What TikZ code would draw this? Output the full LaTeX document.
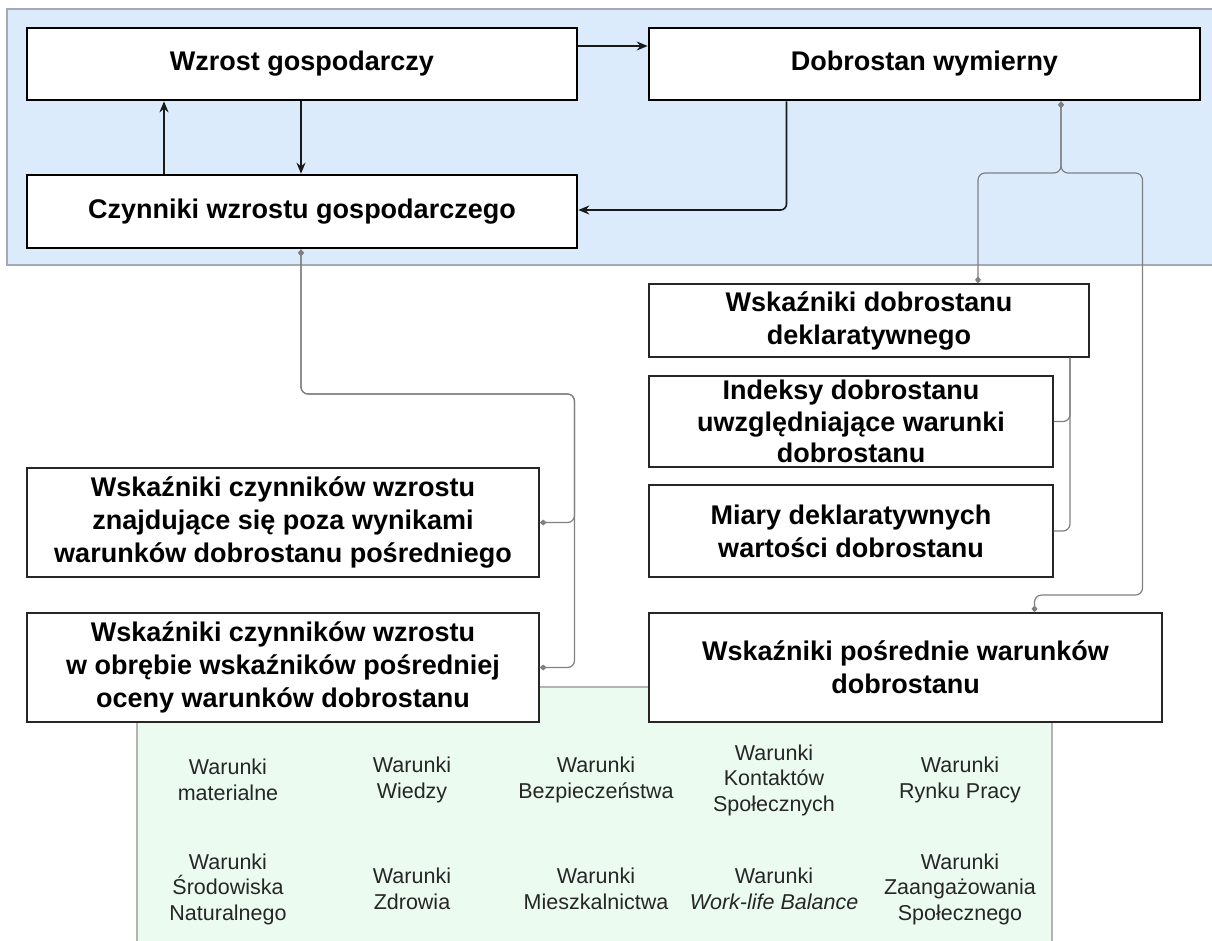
\documentclass[tikz,border=0pt]{standalone}
\usepackage{fontspec}
\setmainfont{Liberation Sans}
\usetikzlibrary{arrows.meta}
\definecolor{bluebg}{HTML}{DCEBFC}
\definecolor{blueedge}{HTML}{A3AAB3}
\definecolor{greenbg}{HTML}{EBFBEF}
\definecolor{greenedge}{HTML}{B4B4B4}
\definecolor{linkgray}{HTML}{808080}

\begin{document}
\begin{tikzpicture}[x=1pt,y=-1pt,
  mainbox/.style={draw=black, line width=2.6pt, fill=white, inner sep=0pt, align=center,
    font=\fontsize{27}{33}\selectfont\bfseries},
  subbox/.style={draw=black!85, line width=1.3pt, fill=white, inner sep=0pt, align=center,
    font=\fontsize{27}{33}\selectfont\bfseries},
  cond/.style={align=center, font=\fontsize{21.5}{25.5}\selectfont, text=black!85},
  flow/.style={draw=black!90, line width=1.6pt, -{Stealth[length=11pt,width=9pt]}, rounded corners=6pt},
  link/.style={draw=linkgray, line width=1.2pt, rounded corners=7pt},
  dstart/.style={{Diamond[length=7pt,width=6pt]}-},
  dboth/.style={{Diamond[length=7pt,width=6pt]}-{Diamond[length=7pt,width=6pt]}},
]
\useasboundingbox (0,0) rectangle (1212,940);

% regions
\path[fill=bluebg, draw=blueedge, line width=2.6pt] (7,9) rectangle (1230,265);
\path[fill=greenbg, draw=greenedge, line width=2pt] (137,687) rectangle (1052,960);

% top-level boxes
\node[mainbox, minimum width=550, minimum height=72] (wg) at (302,64) {Wzrost gospodarczy};
\node[mainbox, minimum width=550, minimum height=73] (cz) at (302,211.5) {Czynniki wzrostu gospodarczego};
\node[mainbox, minimum width=551, minimum height=72] (dw) at (924.5,64) {Dobrostan wymierny};

% indicator boxes
\node[subbox, minimum width=440, minimum height=73] (wdd) at (869,320.5) {Wskaźniki dobrostanu\\deklaratywnego};
\node[subbox, minimum width=404, minimum height=91, font=\fontsize{27}{31.5}\selectfont\bfseries] (ids) at (851,421.5)
  {Indeksy dobrostanu\\uwzględniające warunki\\dobrostanu};
\node[subbox, minimum width=404, minimum height=92] (mdw) at (851,531) {Miary deklaratywnych\\wartości dobrostanu};
\node[subbox, minimum width=513, minimum height=109] (wpw) at (905.5,667.5) {Wskaźniki pośrednie warunków\\dobrostanu};
\node[subbox, minimum width=512, minimum height=109] (wcz1) at (283,522.5)
  {Wskaźniki czynników wzrostu\\znajdujące się poza wynikami\\warunków dobrostanu pośredniego};
\node[subbox, minimum width=512, minimum height=109] (wcz2) at (283,667.5)
  {Wskaźniki czynników wzrostu\\w obrębie wskaźników pośredniej\\oceny warunków dobrostanu};

% conditions
\node[cond] (c1) at (228,780) {Warunki\\materialne};
\node[cond] (c2) at (412,780) {Warunki\\Wiedzy};
\node[cond] (c3) at (596,780) {Warunki\\Bezpieczeństwa};
\node[cond] (c4) at (774,780) {Warunki\\Kontaktów\\Społecznych};
\node[cond] (c5) at (960,780) {Warunki\\Rynku Pracy};
\node[cond] (c6) at (228,889) {Warunki\\Środowiska\\Naturalnego};
\node[cond] (c7) at (412,889) {Warunki\\Zdrowia};
\node[cond] (c8) at (596,889) {Warunki\\Mieszkalnictwa};
\node[cond] (c9) at (774,889) {Warunki\\\textit{Work-life Balance}};
\node[cond] (c10) at (960,889) {Warunki\\Zaangażowania\\Społecznego};

% routing guides
\coordinate (yA) at (0,46);
\coordinate (xUp) at (164,0);
\coordinate (xDown) at (301,0);
\coordinate (xBack) at (786.5,0);
\coordinate (yBack) at (0,210);
\coordinate (xDw) at (1061,0);
\coordinate (yBr) at (0,173);
\coordinate (xL) at (978,0);
\coordinate (xR) at (1142.5,0);
\coordinate (yR) at (0,595);
\coordinate (xWp) at (1034.5,0);
\coordinate (yCz) at (0,394);
\coordinate (xC) at (574.5,0);
\coordinate (xB) at (1070,0);

% causal flow
\draw[flow] (wg.east |- yA) -- (dw.west |- yA);
\draw[flow] (cz.north -| xUp) -- (wg.south -| xUp);
\draw[flow] (wg.south -| xDown) -- (cz.north -| xDown);
\draw[flow] (dw.south -| xBack) |- (cz.east |- yBack);

% indicator links
\draw[link, dboth] (dw.south -| xDw) -- (xDw |- yBr) -| (wdd.north -| xL);
\draw[link, dboth] (dw.south -| xDw) -- (xDw |- yBr) -| (xR |- yR) -| (wpw.north -| xWp);
\draw[link, dboth] (cz.south -| xDown) -- (xDown |- yCz) -| (xC |- wcz1.east) -- (wcz1.east);
\draw[link, dboth] (cz.south -| xDown) -- (xDown |- yCz) -| (xC |- wcz2.east) -- (wcz2.east);
\draw[link] (wdd.south -| xB) |- (ids.east);
\draw[link] (wdd.south -| xB) |- (mdw.east);
\end{tikzpicture}
\end{document}
